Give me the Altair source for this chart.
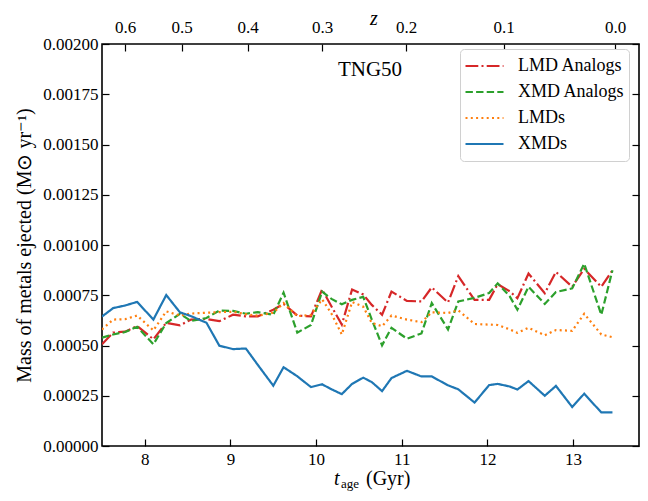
import altair as alt
import pandas as pd

# ---- data ----
t_age = [7.50, 7.63, 7.77, 7.91, 8.10, 8.25, 8.41, 8.54, 8.72, 8.87, 9.03, 9.18,
         9.32, 9.50, 9.62, 9.78, 9.94, 10.07, 10.18, 10.30, 10.42, 10.55, 10.65,
         10.77, 10.88, 11.06, 11.23, 11.35, 11.54, 11.66, 11.85, 12.02, 12.12,
         12.26, 12.35, 12.48, 12.67, 12.80, 12.99, 13.13, 13.33, 13.46]

lmd_analogs = [0.000506, 0.000564, 0.000569, 0.000597, 0.000531, 0.000613, 0.000600,
               0.000629, 0.000632, 0.000621, 0.000653, 0.000645, 0.000645, 0.000678,
               0.000707, 0.000649, 0.000645, 0.000779, 0.000694, 0.000604, 0.000779,
               0.000754, 0.000702, 0.000653, 0.000768, 0.000722, 0.000719, 0.000789,
               0.000714, 0.000845, 0.000727, 0.000727, 0.000805, 0.000770, 0.000735,
               0.000858, 0.000760, 0.000866, 0.000792, 0.000882, 0.000792, 0.000874]

xmd_analogs = [0.000539, 0.000555, 0.000567, 0.000593, 0.000506, 0.000612, 0.000658,
               0.000622, 0.000637, 0.000674, 0.000672, 0.000658, 0.000666, 0.000653,
               0.000763, 0.000564, 0.000602, 0.000768, 0.000732, 0.000705, 0.000727,
               0.000742, 0.000629, 0.000501, 0.000588, 0.000534, 0.000560, 0.000711,
               0.000580, 0.000719, 0.000737, 0.000761, 0.000809, 0.000745, 0.000678,
               0.000792, 0.000707, 0.000766, 0.000784, 0.000907, 0.000653, 0.000874]

lmds = [0.000580, 0.000629, 0.000631, 0.000649, 0.000575, 0.000670, 0.000649,
        0.000659, 0.000663, 0.000666, 0.000668, 0.000656, 0.000648, 0.000663,
        0.000711, 0.000646, 0.000652, 0.000730, 0.000658, 0.000555, 0.000716,
        0.000693, 0.000612, 0.000596, 0.000649, 0.000629, 0.000616, 0.000665,
        0.000662, 0.000675, 0.000607, 0.000604, 0.000602, 0.000580, 0.000563,
        0.000588, 0.000551, 0.000577, 0.000573, 0.000658, 0.000555, 0.000541]

xmds = [0.000644, 0.000686, 0.000699, 0.000717, 0.000629, 0.000751, 0.000665,
        0.000646, 0.000613, 0.000499, 0.000482, 0.000485, 0.000403, 0.000300,
        0.000392, 0.000347, 0.000293, 0.000307, 0.000282, 0.000258, 0.000309,
        0.000340, 0.000318, 0.000273, 0.000338, 0.000374, 0.000346, 0.000346,
        0.000302, 0.000282, 0.000216, 0.000303, 0.000309, 0.000296, 0.000281,
        0.000323, 0.000250, 0.000299, 0.000194, 0.000260, 0.000167, 0.000167]

series_names = ["LMD Analogs", "XMD Analogs", "LMDs", "XMDs"]
series_colors = ["#d62728", "#2ca02c", "#ff7f0e", "#1f77b4"]
series_dashes = [[12.8, 3.2, 2, 3.2], [7.4, 3.2], [2, 3.3], [1, 0]]

x_ticks = [8, 9, 10, 11, 12, 13]
y_ticks = [0, 0.00025, 0.0005, 0.00075, 0.001, 0.00125, 0.0015, 0.00175, 0.002]
z_labels = ["0.6", "0.5", "0.4", "0.3", "0.2", "0.1", "0.0"]
z_ages = [7.77, 8.43, 9.20, 10.07, 11.05, 12.19, 13.49]

rows = []
for name, vals in zip(series_names, [lmd_analogs, xmd_analogs, lmds, xmds]):
    for t, v in zip(t_age, vals):
        rows.append({"t": t, "v": v, "series": name})
df = pd.DataFrame(rows)

FONT = "Liberation Serif"
W, H = 537, 402
xscale = alt.Scale(domain=[7.5, 13.77], nice=False, zero=False)
yscale = alt.Scale(domain=[0, 0.002], nice=False, zero=False)

legend_kw = dict(title=None, orient="none", legendX=358, legendY=5,
                 symbolType="stroke", symbolSize=1444, symbolStrokeWidth=2.2,
                 labelFont=FONT, labelFontSize=18, labelColor="black",
                 labelOffset=13, rowPadding=0, clipHeight=26, padding=4,
                 strokeColor="#d0d0d0", cornerRadius=4, fillColor="white")

lines = alt.Chart(df).mark_line(strokeWidth=2.2, clip=True).encode(
    x=alt.X("t:Q", scale=xscale,
            axis=alt.Axis(values=x_ticks, format="d", title=None, offset=-7,
                          tickSize=7, domain=False, labelPadding=5, grid=False)),
    y=alt.Y("v:Q", scale=yscale,
            axis=alt.Axis(values=y_ticks, format=".5f",
                          title="Mass of metals ejected (M\u2299 yr\u207b\u00b9)",
                          offset=-7, tickSize=7, domain=False, labelPadding=4,
                          titlePadding=8, grid=False)),
    color=alt.Color("series:N", scale=alt.Scale(domain=series_names, range=series_colors),
                    legend=alt.Legend(**legend_kw)),
    strokeDash=alt.StrokeDash("series:N", scale=alt.Scale(domain=series_names, range=series_dashes),
                              legend=alt.Legend(**legend_kw)),
    detail="series:N",
)

# right-hand ticks
right = alt.Chart(pd.DataFrame({"v": y_ticks})).mark_point(opacity=0).encode(
    y=alt.Y("v:Q", scale=yscale,
            axis=alt.Axis(orient="right", values=y_ticks, labels=False, title=None,
                          offset=-7, tickSize=7, domain=False, grid=False)),
)

# top redshift axis
expr_parts = []
for a, lab in zip(z_ages, z_labels):
    expr_parts.append(f"abs(datum.value - {a}) < 0.01 ? '{lab}'")
label_expr = " : ".join(expr_parts) + " : ''"

top = alt.Chart(pd.DataFrame({"age": z_ages, "z": z_labels})).mark_point(opacity=0).encode(
    x=alt.X("age:Q", scale=xscale,
            axis=alt.Axis(orient="top", values=z_ages, labelExpr=label_expr, title=None,
                          offset=-7, tickSize=7, domain=False, labelPadding=8, grid=False)),
)

z_title = alt.Chart(pd.DataFrame({"s": ["z"]})).mark_text(
    font=FONT, fontSize=20, fontStyle="italic", align="center", baseline="middle", color="black"
).encode(text="s:N", x=alt.value(272), y=alt.value(-25))

tng = alt.Chart(pd.DataFrame({"s": ["TNG50"]})).mark_text(
    font=FONT, fontSize=21, align="center", baseline="middle", color="black"
).encode(text="s:N", x=alt.value(268), y=alt.value(26))

t_main = alt.Chart(pd.DataFrame({"s": ["t"]})).mark_text(
    font=FONT, fontSize=20, fontStyle="italic", align="left", baseline="alphabetic", color="black"
).encode(text="s:N", x=alt.value(232), y=alt.value(441))
t_sub = alt.Chart(pd.DataFrame({"s": ["age"]})).mark_text(
    font=FONT, fontSize=13, align="left", baseline="alphabetic", color="black"
).encode(text="s:N", x=alt.value(239), y=alt.value(444))
t_unit = alt.Chart(pd.DataFrame({"s": ["(Gyr)"]})).mark_text(
    font=FONT, fontSize=20, align="left", baseline="alphabetic", color="black"
).encode(text="s:N", x=alt.value(264), y=alt.value(441))

chart = alt.layer(lines, right, top, z_title, tng, t_main, t_sub, t_unit).resolve_axis(
    x="independent", y="independent"
).properties(
    width=W, height=H,
    autosize=alt.AutoSizeParams(type="none"),
    padding={"left": 94, "top": 36, "right": 1, "bottom": 47},
).configure_axis(
    labelFont=FONT, labelFontSize=17, labelColor="black",
    titleFont=FONT, titleFontSize=20, titleFontWeight="normal", titleColor="black",
    tickColor="black", tickWidth=1.2,
).configure_view(stroke="black", strokeWidth=1.6)

chart.save("out.html", embed_options={"renderer": "svg", "actions": False})
